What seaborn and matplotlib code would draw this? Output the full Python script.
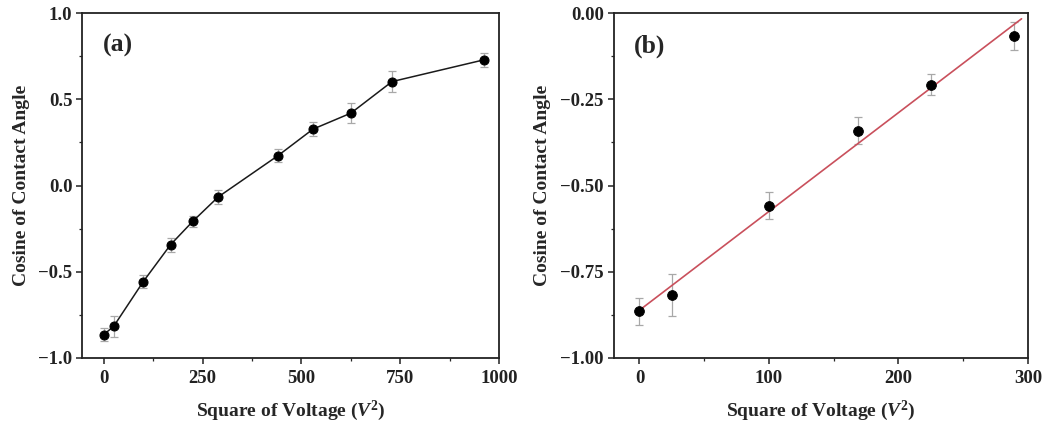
import numpy as np
import pandas as pd
import matplotlib
matplotlib.use("Agg")
import matplotlib.pyplot as plt
import seaborn as sns
from matplotlib.ticker import MultipleLocator, FuncFormatter

# ---- data ----
volt_sq_a = [0, 25, 100, 169, 225, 289, 441, 529, 625, 729, 961]
cos_a = [-0.865, -0.817, -0.557, -0.343, -0.208, -0.067, 0.174, 0.327, 0.420, 0.603, 0.729]
err_a = [0.04, 0.06, 0.04, 0.04, 0.03, 0.04, 0.04, 0.04, 0.06, 0.06, 0.04]

volt_sq_b = [0, 25, 100, 169, 225, 289]
cos_b = [-0.865, -0.818, -0.558, -0.341, -0.207, -0.066]
err_b = [0.04, 0.06, 0.04, 0.04, 0.03, 0.04]

panel_labels = ["(a)", "(b)"]
xlabel = r"Square of Voltage ($\mathbfit{V}^2$)"
ylabel = "Cosine of Contact Angle"

sns.set_theme(style="ticks")
plt.rcParams["font.family"] = ["Liberation Serif", "DejaVu Serif"]
plt.rcParams["font.weight"] = "bold"
plt.rcParams["mathtext.fontset"] = "custom"
plt.rcParams["mathtext.rm"] = "Liberation Serif:bold"
plt.rcParams["mathtext.it"] = "Liberation Serif:italic:bold"
plt.rcParams["mathtext.bf"] = "Liberation Serif:bold"
plt.rcParams["mathtext.bfit"] = "Liberation Serif:italic:bold"

df_a = pd.DataFrame({"x": volt_sq_a, "y": cos_a, "e": err_a})
df_b = pd.DataFrame({"x": volt_sq_b, "y": cos_b, "e": err_b})

fig = plt.figure(figsize=(10.56, 4.25), dpi=100)
ax1 = fig.add_axes([0.0777, 0.158, 0.395, 0.811])
ax2 = fig.add_axes([0.581, 0.158, 0.3925, 0.811])

err_kw = dict(fmt="none", ecolor="#a8a8a8", elinewidth=0.9, capsize=3, capthick=0.9, zorder=1)

# panel (a)
ax1.errorbar(df_a["x"], df_a["y"], yerr=df_a["e"], **err_kw)
sns.lineplot(data=df_a, x="x", y="y", ax=ax1, color="#1a1a1a", linewidth=1.1,
             marker="o", markersize=6.5, markeredgecolor="black",
             markerfacecolor="black", zorder=3)
ax1.set_xlim(-55, 1000)
ax1.set_ylim(-1.0, 1.0)
ax1.xaxis.set_major_locator(MultipleLocator(250))
ax1.xaxis.set_minor_locator(MultipleLocator(125))
ax1.yaxis.set_major_locator(MultipleLocator(0.5))
ax1.yaxis.set_minor_locator(MultipleLocator(0.25))
ax1.yaxis.set_major_formatter(FuncFormatter(lambda v, p: f"{v:.1f}".replace("-", "\u2212")))

# panel (b)
ax2.errorbar(df_b["x"], df_b["y"], yerr=df_b["e"], **err_kw)
sns.scatterplot(data=df_b, x="x", y="y", ax=ax2, color="black", s=50,
                edgecolor="black", zorder=3)
slope, intercept = np.polyfit(df_b["x"], df_b["y"], 1)
xfit = np.array([min(volt_sq_b), 295])
sns.lineplot(x=xfit, y=slope * xfit + intercept, ax=ax2, color="#c9505c",
             linewidth=1.2, zorder=2)
ax2.set_xlim(-20, 300)
ax2.set_ylim(-1.0, 0.0)
ax2.xaxis.set_major_locator(MultipleLocator(100))
ax2.xaxis.set_minor_locator(MultipleLocator(50))
ax2.yaxis.set_major_locator(MultipleLocator(0.25))
ax2.yaxis.set_minor_locator(MultipleLocator(0.125))
ax2.yaxis.set_major_formatter(FuncFormatter(lambda v, p: f"{v:.2f}".replace("-", "\u2212")))

for ax, lab in zip([ax1, ax2], panel_labels):
    for s in ax.spines.values():
        s.set_visible(True)
        s.set_linewidth(1.3)
        s.set_color("#222222")
    ax.tick_params(which="major", direction="out", length=4, width=1.1,
                   labelsize=13.5, colors="#222222", top=False, right=False)
    ax.tick_params(axis="x", which="major", pad=5)
    ax.tick_params(axis="y", which="major", pad=3)
    ax.tick_params(which="minor", direction="out", length=2.5, width=0.9,
                   top=False, right=False)
    for t in ax.get_xticklabels() + ax.get_yticklabels():
        t.set_fontweight("bold")
    ax.set_xlabel(xlabel, fontsize=14, fontweight="bold", labelpad=8)
    ax.set_ylabel(ylabel, fontsize=14, fontweight="bold")
    ax.text(0.05, 0.905, lab, transform=ax.transAxes, fontsize=18.5,
            fontweight="bold", va="center", ha="left")
    ax.grid(False)

ax1.yaxis.set_label_coords(-0.125, 0.5)
ax2.yaxis.set_label_coords(-0.15, 0.5)

fig.savefig("out.png", dpi=100)
